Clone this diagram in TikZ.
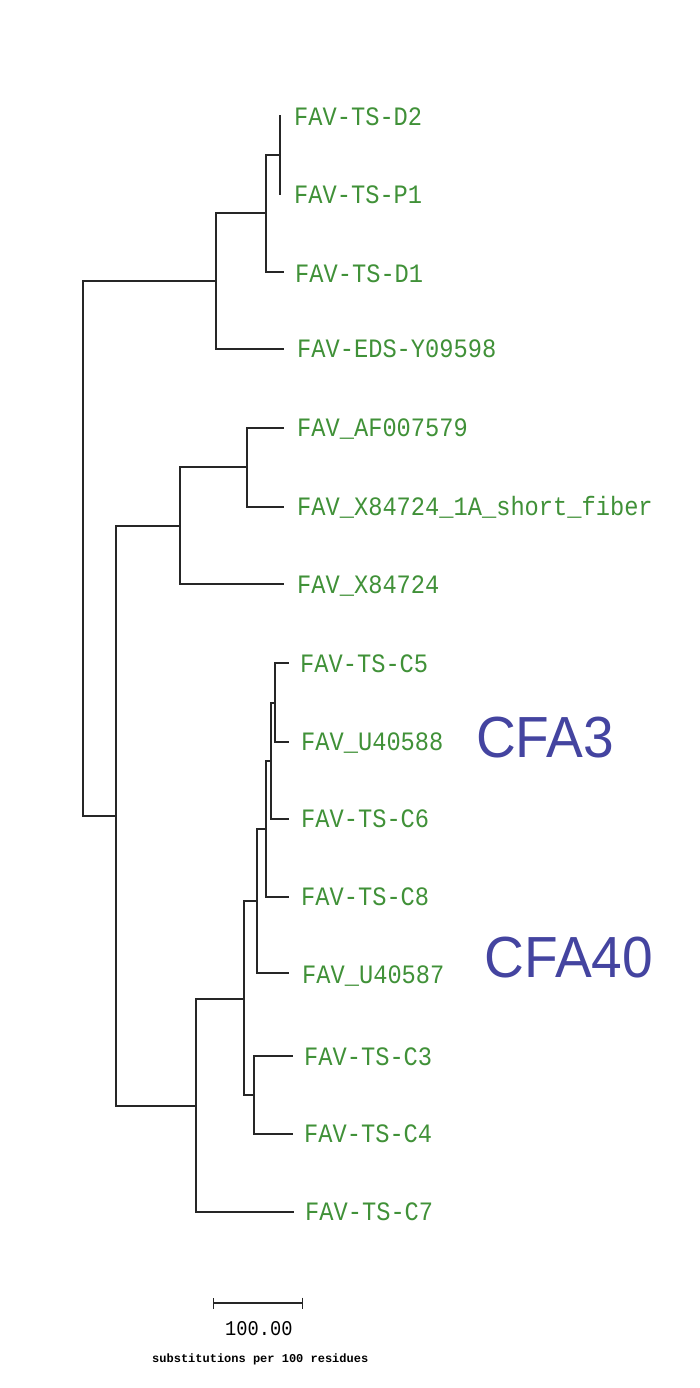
\documentclass[tikz,border=0pt]{standalone}
\usepackage{fontspec}
\newfontfamily\labfont{Liberation Mono}
\newfontfamily\handfont{Liberation Sans}
\usetikzlibrary{arrows.meta}
\definecolor{leafgreen}{RGB}{64,145,56}
\definecolor{ink}{RGB}{68,68,160}
\newcommand{\tall}[1]{\scalebox{1}[1.12]{#1}}
\begin{document}
\begin{tikzpicture}[x=1pt,y=-1pt,
  branch/.style={line width=1.8pt, draw=black!85, line cap=rect},
  leaf/.style={anchor=base west, inner sep=0pt, text=leafgreen,
    font=\labfont\fontsize{23.7}{24}\selectfont},
  hand/.style={inner sep=0pt, text=ink, font=\handfont\fontsize{58}{60}\selectfont},
  scaletxt/.style={inner sep=0pt, anchor=base west, text=black}]
\useasboundingbox (0,0) rectangle (699,1388);
\fill[white] (0,0) rectangle (699,1388);
% tips
\coordinate (tD2) at (280,116);
\coordinate (tP1) at (280,194);
\coordinate (tD1) at (283,272);
\coordinate (tEDS) at (283,349);
\coordinate (tAF) at (283,428);
\coordinate (tSF) at (283,507);
\coordinate (tX) at (283,584);
\coordinate (tC5) at (288,663);
\coordinate (tU88) at (288,742);
\coordinate (tC6) at (288,819);
\coordinate (tC8) at (288,897);
\coordinate (tU87) at (288,973);
\coordinate (tC3) at (292,1056);
\coordinate (tC4) at (292,1134);
\coordinate (tC7) at (293,1212);
% internal nodes
\coordinate (nDP) at (280,155);
\coordinate (nD) at (266,213);
\coordinate (nDE) at (216,281);
\coordinate (nAS) at (247,467);
\coordinate (nAX) at (180,526);
\coordinate (nC5U) at (275,703);
\coordinate (nC6) at (271,761);
\coordinate (nC8) at (266,829);
\coordinate (nU87) at (257,901);
\coordinate (nC34) at (254,1095);
\coordinate (nCC) at (244,999);
\coordinate (nC7) at (196,1106);
\coordinate (nLow) at (116,816);
\coordinate (root) at (83,549);
% branches
\draw[branch] (root) |- (nDE);
\draw[branch] (root) |- (nLow);
\draw[branch] (nDE) |- (nD);
\draw[branch] (nDE) |- (tEDS);
\draw[branch] (nD) |- (nDP);
\draw[branch] (nD) |- (tD1);
\draw[branch] (nDP) |- (tD2);
\draw[branch] (nDP) |- (tP1);
\draw[branch] (nLow) |- (nAX);
\draw[branch] (nLow) |- (nC7);
\draw[branch] (nAX) |- (nAS);
\draw[branch] (nAX) |- (tX);
\draw[branch] (nAS) |- (tAF);
\draw[branch] (nAS) |- (tSF);
\draw[branch] (nC7) |- (nCC);
\draw[branch] (nC7) |- (tC7);
\draw[branch] (nCC) |- (nU87);
\draw[branch] (nCC) |- (nC34);
\draw[branch] (nC34) |- (tC3);
\draw[branch] (nC34) |- (tC4);
\draw[branch] (nU87) |- (nC8);
\draw[branch] (nU87) |- (tU87);
\draw[branch] (nC8) |- (nC6);
\draw[branch] (nC8) |- (tC8);
\draw[branch] (nC6) |- (nC5U);
\draw[branch] (nC6) |- (tC6);
\draw[branch] (nC5U) |- (tC5);
\draw[branch] (nC5U) |- (tU88);
% labels
\node[leaf] (D2) at (294,126) {\tall{FAV-TS-D2}};
\node[leaf] (P1) at (294,204) {\tall{FAV-TS-P1}};
\node[leaf] (D1) at (295,282) {\tall{FAV-TS-D1}};
\node[leaf] (EDS) at (297,357) {\tall{FAV-EDS-Y09598}};
\node[leaf] (AF) at (297,436) {\tall{FAV\_AF007579}};
\node[leaf] (SF) at (297,515) {\tall{FAV\_X84724\_1A\_short\_fiber}};
\node[leaf] (X) at (297,593) {\tall{FAV\_X84724}};
\node[leaf] (C5) at (300,672) {\tall{FAV-TS-C5}};
\node[leaf] (U88) at (301,750) {\tall{FAV\_U40588}};
\node[leaf] (C6) at (301,827) {\tall{FAV-TS-C6}};
\node[leaf] (C8) at (301,905) {\tall{FAV-TS-C8}};
\node[leaf] (U87) at (302,983) {\tall{FAV\_U40587}};
\node[leaf] (C3) at (304,1065) {\tall{FAV-TS-C3}};
\node[leaf] (C4) at (304,1142) {\tall{FAV-TS-C4}};
\node[leaf] (C7) at (305,1220) {\tall{FAV-TS-C7}};
% handwritten notes
\node[hand] (cfa3) at (545,738) {\scalebox{0.95}[1]{CFA3}};
\node[hand] (cfa40) at (569,958) {\scalebox{0.95}[1]{CFA40}};
% scale bar
\coordinate (sbL) at (213,1303);
\coordinate (sbR) at (303,1303);
\draw[line width=1.4pt, black!85, {Bar[width=11pt]}-{Bar[width=11pt]}] (sbL) -- (sbR);
\node[scaletxt, font=\labfont\fontsize{18.7}{19}\selectfont] (sbval) at (225,1335) {\tall{100.00}};
\node[scaletxt, font=\labfont\bfseries\fontsize{12}{13}\selectfont] (sbunit) at (152,1362) {substitutions per 100 residues};
\end{tikzpicture}
\end{document}
